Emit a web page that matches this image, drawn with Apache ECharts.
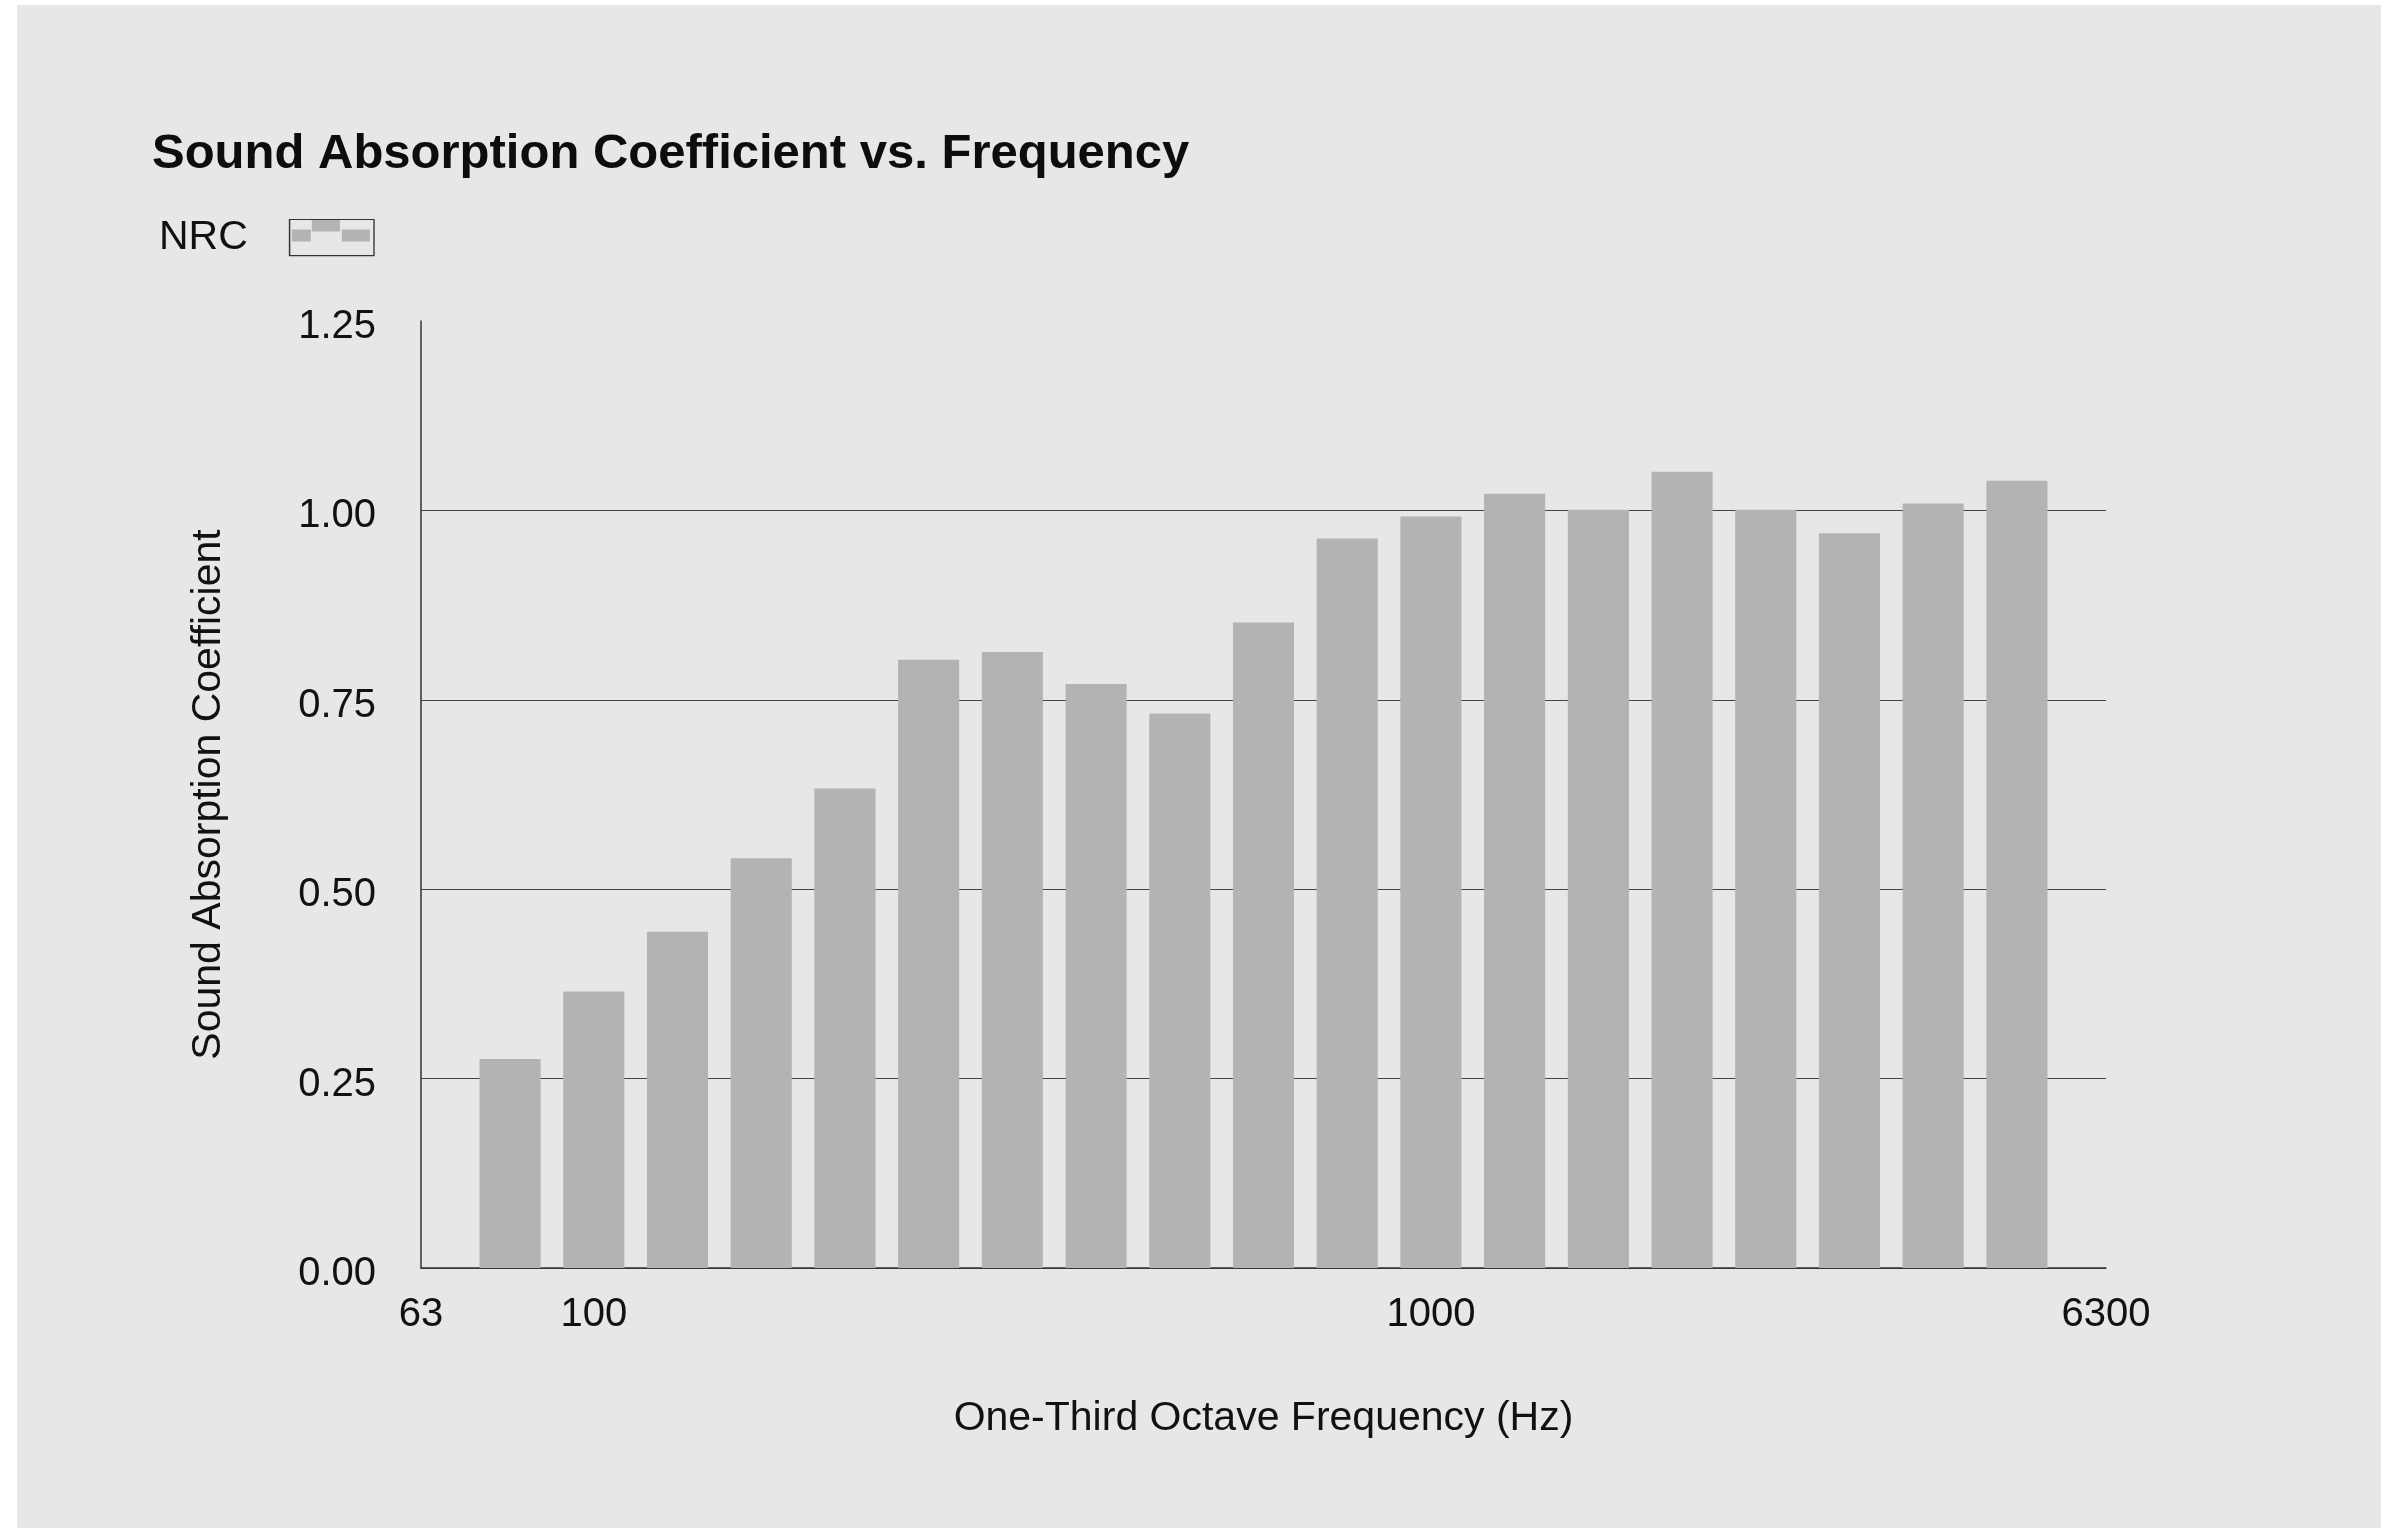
<!DOCTYPE html>
<html>
<head>
<meta charset="utf-8">
<script src="https://cdn.jsdelivr.net/npm/echarts@6/dist/echarts.min.js"></script>
<style>
  html, body { margin: 0; padding: 0; background: #ffffff; }
  #panel { position: absolute; left: 17px; top: 5px; width: 2364px; height: 1523px; background: #e7e7e7; }
  #chart { position: absolute; left: 0; top: 0; width: 2381px; height: 1528px; }
</style>
</head>
<body>
<div id="panel"></div>
<div id="chart"></div>
<script>
// One-third octave band centre frequencies (Hz)
const categories = ['80','100','125','160','200','250','315','400','500','630','800','1000','1250','1600','2000','2500','3150','4000','5000'];
// Sound absorption coefficient per band
const absorption = [0.276, 0.365, 0.444, 0.541, 0.633, 0.803, 0.813, 0.771, 0.732, 0.852, 0.963, 0.992, 1.022, 1.001, 1.051, 1.001, 0.970, 1.009, 1.039];
// X tick labels shown on the axis
const xTickLabels = ['63', '100', '1000', '6300'];
// Y ticks
const yTicks = [0, 0.25, 0.5, 0.75, 1.0, 1.25];

const FONT = "'Liberation Sans', Arial, Helvetica, sans-serif";
const xPad = 1.064; // axis padding beyond first/last band, in band units
const xMin = -xPad;
const xMax = categories.length - 1 + xPad;
const xTickValues = [xMin, categories.indexOf('100'), categories.indexOf('1000'), xMax];

const barData = absorption.map((v, i) => [i, v]);

const legendSvg = "<svg xmlns='http://www.w3.org/2000/svg' width='122' height='38' viewBox='0 0 122 38'>" +
  "<rect x='36.75' y='0.75' width='84.5' height='36.5' fill='none' stroke='#333333' stroke-width='1.5'/>" +
  "<rect x='39' y='11' width='19' height='12' fill='#b3b3b2'/>" +
  "<rect x='59' y='1.5' width='28' height='11.5' fill='#b3b3b2'/>" +
  "<rect x='89' y='11' width='28' height='12' fill='#b3b3b2'/></svg>";
const legendIcon = 'image://data:image/svg+xml;charset=utf-8,' + encodeURIComponent(legendSvg);

const chart = echarts.init(document.getElementById('chart'), null, { renderer: 'canvas' });
chart.setOption({
  backgroundColor: 'transparent',
  animation: false,
  textStyle: { fontFamily: FONT },
  title: {
    text: 'Sound Absorption Coefficient vs. Frequency',
    left: 152,
    top: 130,
    padding: 0,
    textStyle: { fontFamily: FONT, fontWeight: 'bold', fontSize: 49, color: '#0d0d0d' }
  },
  legend: {
    data: [{ name: 'NRC', icon: legendIcon }],
    left: 159,
    top: 217,
    padding: 0,
    align: 'right',
    itemWidth: 122,
    itemHeight: 38,
    selectedMode: false,
    textStyle: { fontFamily: FONT, fontSize: 41, color: '#111111' }
  },
  grid: { left: 421, right: 275, top: 321, bottom: 260, containLabel: false },
  xAxis: {
    type: 'value',
    min: xMin,
    max: xMax,
    name: 'One-Third Octave Frequency (Hz)',
    nameLocation: 'middle',
    nameGap: 130,
    nameTextStyle: { fontFamily: FONT, fontSize: 41, color: '#111111' },
    axisLine: { show: true, onZero: false, lineStyle: { color: '#333333', width: 1.5 } },
    axisTick: { show: false },
    splitLine: { show: false },
    axisLabel: {
      customValues: xTickValues,
      margin: 27,
      fontFamily: FONT,
      fontSize: 40,
      color: '#111111',
      formatter: function (v) {
        let best = 0, bd = Infinity;
        xTickValues.forEach((t, i) => { const d = Math.abs(t - v); if (d < bd) { bd = d; best = i; } });
        return xTickLabels[best];
      }
    }
  },
  yAxis: {
    type: 'value',
    min: yTicks[0],
    max: yTicks[yTicks.length - 1],
    interval: 0.25,
    name: 'Sound Absorption Coefficient',
    nameLocation: 'middle',
    nameGap: 192,
    nameTextStyle: { fontFamily: FONT, fontSize: 41, color: '#111111' },
    axisLine: { show: true, onZero: false, lineStyle: { color: '#333333', width: 1.5 } },
    axisTick: { show: false },
    splitLine: {
      show: true,
      showMaxLine: false,
      lineStyle: { color: ['#444444', '#444444', '#444444', '#444444', '#444444', 'rgba(0,0,0,0)'], width: 1.2 }
    },
    axisLabel: {
      margin: 45,
      verticalAlign: 'top',
      lineHeight: 12,
      fontFamily: FONT,
      fontSize: 40,
      color: '#111111',
      formatter: v => v.toFixed(2)
    }
  },
  series: [
    {
      name: 'Absorption',
      type: 'bar',
      data: barData,
      barWidth: '73%',
      itemStyle: { color: '#b3b3b2' },
      silent: true
    },
    {
      name: 'NRC',
      type: 'line',
      data: [],
      itemStyle: { color: '#b3b3b2' }
    }
  ]
});
</script>
</body>
</html>
